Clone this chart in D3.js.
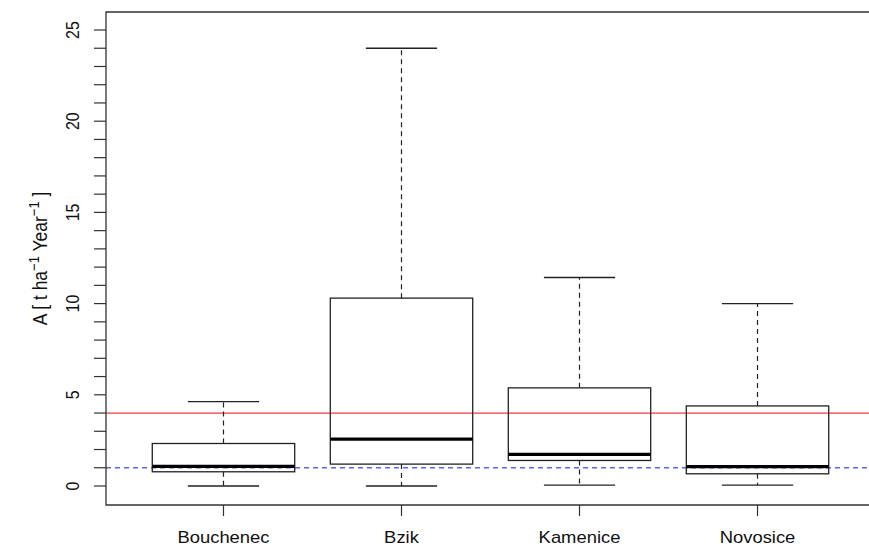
<!DOCTYPE html>
<head>
<meta charset="utf-8">
<script src="https://d3js.org/d3.v7.min.js"></script>
<style>
  body { margin: 0; background: #fff; }
  text { font-family: 'Liberation Sans', Arial, sans-serif; fill: #111; }
</style>
</head>
<body>
<div id="chart"></div>
<script>
// sites and five-number summaries
var sites     = ["Bouchenec", "Bzik", "Kamenice", "Novosice"];
var lowWhisk  = [0, 0, 0.05, 0.05];
var q1        = [0.78, 1.2, 1.4, 0.67];
var medians   = [1.08, 2.57, 1.73, 1.06];
var q3        = [2.33, 10.3, 5.38, 4.39];
var highWhisk = [4.63, 24, 11.43, 10.0];
var yTicks    = [0, 5, 10, 15, 20, 25];
var refRed = 4, refBlue = 1;

(function() {
var width = 869, height = 546;
var svg = d3.select("#chart").append("svg")
  .attr("width", width).attr("height", height);

// plot region (R style: x from 0.34 to 4.66, right edge runs off the picture)
var plotL = 106, plotT = 12, plotB = 505;
var x = d3.scaleLinear().domain([0.34, 4.66]).range([plotL, 875]);
var y = d3.scaleLinear().domain([0, 25]).range([486, 30]);
var step = x(2) - x(1);
var boxW = step * 0.8, capW = boxW / 2;
var sx = 1.15; // the picture is a little stretched sideways

var data = sites.map(function(s, i) {
  return {name: s, i: i + 1, lo: lowWhisk[i], q1: q1[i], med: medians[i], q3: q3[i], hi: highWhisk[i]};
});

// reference lines
svg.append("line")
  .attr("x1", plotL).attr("x2", width)
  .attr("y1", y(refRed)).attr("y2", y(refRed))
  .attr("stroke", "#f03a3a").attr("stroke-width", 1.3);
svg.append("line")
  .attr("x1", plotL).attr("x2", width)
  .attr("y1", y(refBlue)).attr("y2", y(refBlue))
  .attr("stroke", "#6464dc").attr("stroke-width", 1.3)
  .attr("stroke-dasharray", "5,4");

var g = svg.append("g").selectAll("g").data(data).enter().append("g");

// whiskers (dashed)
g.append("line")
  .attr("x1", function(d){ return x(d.i); }).attr("x2", function(d){ return x(d.i); })
  .attr("y1", function(d){ return y(d.q3); }).attr("y2", function(d){ return y(d.hi); })
  .attr("stroke", "#222").attr("stroke-width", 1.2).attr("stroke-dasharray", "5,4");
g.append("line")
  .attr("x1", function(d){ return x(d.i); }).attr("x2", function(d){ return x(d.i); })
  .attr("y1", function(d){ return y(d.q1); }).attr("y2", function(d){ return y(d.lo); })
  .attr("stroke", "#222").attr("stroke-width", 1.2).attr("stroke-dasharray", "5,4");

// caps
["hi", "lo"].forEach(function(k) {
  g.append("line")
    .attr("x1", function(d){ return x(d.i) - capW / 2; })
    .attr("x2", function(d){ return x(d.i) + capW / 2; })
    .attr("y1", function(d){ return y(d[k]); }).attr("y2", function(d){ return y(d[k]); })
    .attr("stroke", "#222").attr("stroke-width", 1.3);
});

// boxes
g.append("rect")
  .attr("x", function(d){ return x(d.i) - boxW / 2; })
  .attr("width", boxW)
  .attr("y", function(d){ return y(d.q3); })
  .attr("height", function(d){ return y(d.q1) - y(d.q3); })
  .attr("fill", "none").attr("stroke", "#222").attr("stroke-width", 1.3);

// medians
g.append("line")
  .attr("x1", function(d){ return x(d.i) - boxW / 2; })
  .attr("x2", function(d){ return x(d.i) + boxW / 2; })
  .attr("y1", function(d){ return y(d.med); }).attr("y2", function(d){ return y(d.med); })
  .attr("stroke", "#000").attr("stroke-width", 3.2);

// frame
svg.append("path")
  .attr("d", "M" + width + "," + plotT + "H" + plotL + "V" + plotB + "H" + width)
  .attr("fill", "none").attr("stroke", "#333").attr("stroke-width", 1.3);

// y axis: ticks every unit, labels every 5
svg.append("g").selectAll("line").data(d3.range(0, 26, 1)).enter().append("line")
  .attr("x1", plotL - 12).attr("x2", plotL)
  .attr("y1", function(d){ return y(d); }).attr("y2", function(d){ return y(d); })
  .attr("stroke", "#333").attr("stroke-width", 1.2);

svg.append("g").selectAll("text").data(yTicks).enter().append("text")
  .attr("transform", function(d){ return "translate(79," + y(d) + ") scale(" + sx + ",1) rotate(-90)"; })
  .attr("text-anchor", "middle")
  .style("font-size", "16px")
  .text(function(d){ return d; });

// x axis ticks and labels
svg.append("g").selectAll("line").data(data).enter().append("line")
  .attr("x1", function(d){ return x(d.i); }).attr("x2", function(d){ return x(d.i); })
  .attr("y1", plotB).attr("y2", plotB + 11)
  .attr("stroke", "#333").attr("stroke-width", 1.2);

svg.append("g").selectAll("text").data(data).enter().append("text")
  .attr("transform", function(d){ return "translate(" + x(d.i) + ",543) scale(" + sx + ",1)"; })
  .attr("text-anchor", "middle")
  .style("font-size", "16px")
  .text(function(d){ return d.name; });

// y label with superscripts
var yl = svg.append("text")
  .attr("transform", "translate(47," + ((plotT + plotB) / 2) + ") scale(" + sx + ",1) rotate(-90)")
  .attr("text-anchor", "middle")
  .style("font-size", "17.5px");
yl.append("tspan").text("A [ t ha");
yl.append("tspan").attr("dy", -7).style("font-size", "13px").text("\u22121");
yl.append("tspan").attr("dy", 7).text(" Year");
yl.append("tspan").attr("dy", -7).style("font-size", "13px").text("\u22121");
yl.append("tspan").attr("dy", 7).text(" ]");
})();
</script>
</body>
